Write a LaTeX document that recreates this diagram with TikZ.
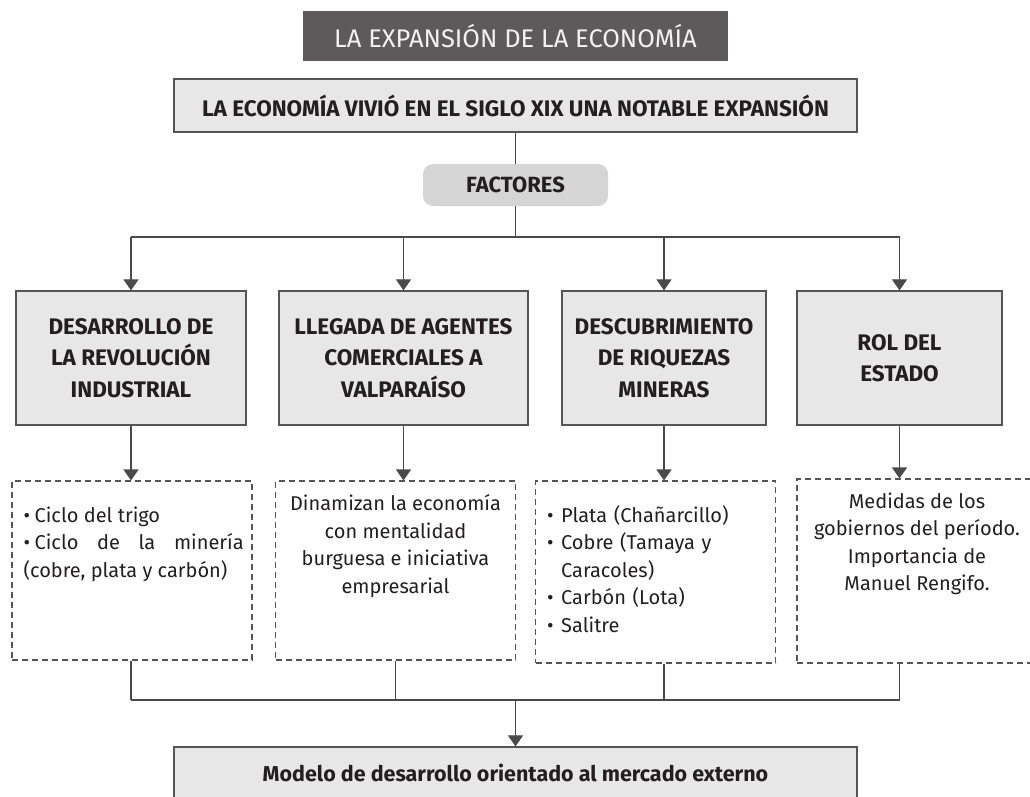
\documentclass[tikz,border=0pt]{standalone}
\usepackage{fontspec}
\setmainfont{Fira Sans}
\usetikzlibrary{arrows.meta,positioning}
\definecolor{titlegray}{HTML}{5C5A5B}
\definecolor{titletext}{HTML}{F2F2F2}
\definecolor{boxgray}{HTML}{E7E7E7}
\definecolor{factgray}{HTML}{D5D5D5}
\definecolor{boxline}{HTML}{555555}
\definecolor{linegray}{HTML}{4A4A4A}
\definecolor{inkgray}{HTML}{231F20}
\newcommand{\bitem}[2][11pt]{\par\hangindent=#1\hangafter=1\noindent\makebox[#1][l]{\textbullet}#2}

\begin{document}
\begin{tikzpicture}[x=1pt,y=-1pt,text=inkgray,
  titlebox/.style={fill=titlegray,text=titletext,minimum width=425pt,minimum height=50pt,font=\fontsize{25.5}{30}\selectfont},
  mainbox/.style={draw=boxline,fill=boxgray,line width=1.2pt,minimum width=683pt,minimum height=53pt},
  factbox/.style={fill=factgray,rounded corners=10pt,minimum width=185pt,minimum height=42pt,font=\fontsize{22}{28}\selectfont\bfseries},
  causebox/.style={draw=boxline,fill=boxgray,line width=1.2pt,minimum height=134pt,align=center,font=\fontsize{22.5}{31.5}\selectfont\bfseries},
  detbox/.style={draw=boxline,line width=1.1pt,dash pattern=on 6pt off 4pt,minimum width=240pt},
  dettext/.style={inner sep=0pt,font=\fontsize{20}{27.5}\selectfont},
  link/.style={draw=linegray,line width=1.1pt},
  arr/.style={link,-{Triangle[width=15pt,length=11pt]}}]
\useasboundingbox (0,0) rectangle (1030,796); \clip (0,0) rectangle (1030,796);

\node[titlebox] (title) at (515.5,36) {LA EXPANSIÓN DE LA ECONOMÍA};
\node[mainbox,font=\fontsize{22.5}{28}\selectfont\bfseries] (lead) at (515.5,105.5) {LA ECONOMÍA VIVIÓ EN EL SIGLO XIX UNA NOTABLE EXPANSIÓN};
\node[factbox] (fact) at (515.5,185) {FACTORES};

\node[causebox,minimum width=230pt] (c1) at (131,358) {DESARROLLO DE\\LA REVOLUCIÓN\\INDUSTRIAL};
\node[causebox,minimum width=249pt] (c2) at (403.5,358) {LLEGADA DE AGENTES\\COMERCIALES A\\VALPARAÍSO};
\node[causebox,minimum width=204pt] (c3) at (664,358) {DESCUBRIMIENTO\\DE RIQUEZAS\\MINERAS};
\node[causebox,minimum width=205pt] (c4) at (899.5,358) {ROL DEL\\ESTADO};

\node[detbox,minimum height=179pt] (d1) at (132,570.5) {};
\node[detbox,minimum height=179pt] (d2) at (395.5,570.5) {};
\node[detbox,minimum height=182pt] (d3) at (655.5,572) {};
\node[detbox,minimum height=184pt] (d4) at (917,571) {};

\node[dettext,text width=220pt,align=justify,below right=14pt and 12pt of d1.north west] (t1)
  {\bitem{Ciclo del trigo}\bitem{Ciclo de la minería\linebreak (cobre, plata y carbón)}};
\node[dettext,align=center,below=14pt of d2.north] (t2)
  {Dinamizan la economía\\con mentalidad\\burguesa e iniciativa\\empresarial};
\node[dettext,text width=215pt,align=left,below right=14pt and 12pt of d3.north west] (t3)
  {\bitem[14pt]{Plata (Chañarcillo)}\bitem[14pt]{Cobre (Tamaya y\newline Caracoles)}\bitem[14pt]{Carbón (Lota)}\bitem[14pt]{Salitre}};
\node[dettext,align=center,below=14pt of d4.north] (t4)
  {Medidas de los\\gobiernos del período.\\Importancia de\\Manuel Rengifo.};

\node[mainbox,minimum height=52pt,font=\fontsize{21.5}{26}\selectfont\bfseries] (model) at (515.5,773) {Modelo de desarrollo orientado al mercado externo};

\coordinate (busA) at (515.5,237); \coordinate (busB) at (515.5,700);
\draw[link] (lead) -- (fact); \draw[link] (fact) -- (busA);
\draw[link] (c1.north |- busA) -- (c4.north |- busA);
\foreach \n in {c1,c2,c3,c4} \draw[arr] (\n.north |- busA) -- (\n.north);
\foreach \n/\d in {c1/d1,c2/d2,c3/d3,c4/d4} \draw[arr] (\n.south) -- (\n.south |- \d.north);
\foreach \n/\d in {c1/d1,d2/d2,c3/d3,c4/d4} \draw[link] (\n.south |- \d.south) -- (\n.south |- busB);
\draw[link] (c1.south |- busB) -- (c4.south |- busB);
\draw[arr] (busB) -- (model);
\end{tikzpicture}
\end{document}
